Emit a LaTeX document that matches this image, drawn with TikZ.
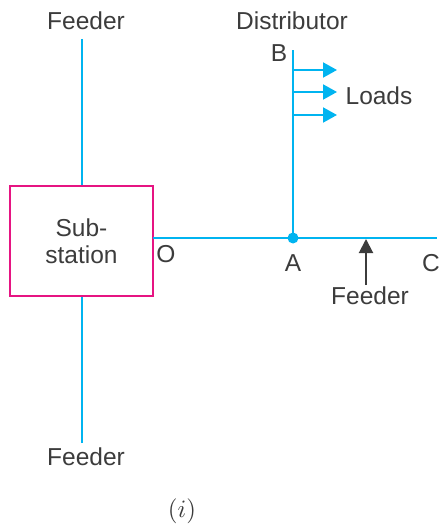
\documentclass[tikz,border=0pt]{standalone}
\usepackage{fontspec}
\setmainfont{Liberation Sans}
\usetikzlibrary{arrows.meta}
\definecolor{cy}{RGB}{0,180,240}
\definecolor{pk}{RGB}{230,20,130}
\definecolor{tx}{RGB}{60,60,60}
\begin{document}
\begin{tikzpicture}[x=1pt,y=-1pt,
  lbl/.style={text=tx,font=\fontsize{24.5}{27}\selectfont,inner sep=0pt},
  wire/.style={draw=cy,line width=2pt},
  load/.style={draw=cy,line width=2pt,-{Triangle[length=14pt,width=15pt]}}]
\useasboundingbox (0,0) rectangle (441,529);
% substation
\node[draw=pk,line width=2.5pt,minimum width=143pt,minimum height=110pt,inner sep=0pt,
  align=center,lbl] (S) at (81.5,241) {Sub-\\station};
\coordinate (Ft) at (82,39);
\coordinate (Fb) at (82,443);
\draw[wire] (Ft) -- (Ft|-S.north);
\draw[wire] (Fb) -- (Fb|-S.south);
% main line
\coordinate (O) at (153,238);
\coordinate (C) at (437,238);
\coordinate (A) at (293,238);
\coordinate (B) at (293,50);
\draw[wire] (O) -- (C);
\draw[wire] (A) -- (B);
\fill[cy] (A) circle (5.5pt);
% loads
\foreach \y/\n in {70/1,92/2,115/3}{
  \coordinate (l\n) at (293,\y);
  \coordinate (m\n) at (337,\y);
  \draw[load] (l\n) -- (m\n);
}
% feeder arrow
\coordinate (Fa) at (366,285);
\coordinate (Fh) at (366,239);
\draw[draw=tx,line width=2pt,-{Triangle[length=14pt,width=14pt]}] (Fa) -- (Fh);
% labels
\node[lbl] (tF) at (86,21) {Feeder};
\node[lbl] (bF) at (86,457) {Feeder};
\node[lbl] (dist) at (292,21) {Distributor};
\node[lbl] (lB) at (279,53) {B};
\node[lbl] (lL) at (379,96) {Loads};
\node[lbl] (lO) at (166,254) {O};
\node[lbl] (lA) at (293,263) {A};
\node[lbl] (lC) at (431,263) {C};
\node[lbl] (rF) at (370,296) {Feeder};
\node[text=tx,inner sep=0pt] (cap) at (182,511) {\scalebox{2.5}{$(i)$}};
\end{tikzpicture}
\end{document}
